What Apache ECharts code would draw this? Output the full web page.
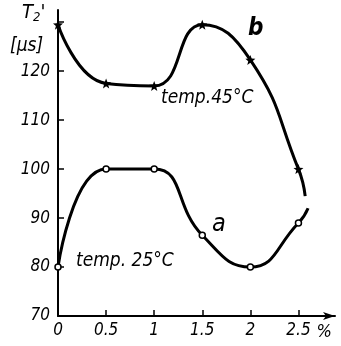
<!DOCTYPE html>
<html><head><meta charset="utf-8">
<script src="https://cdn.jsdelivr.net/npm/echarts@6/dist/echarts.min.js"></script>
<style>html,body{margin:0;padding:0;background:#fff}#c{width:341px;height:346px}</style>
</head><body><div id="c"></div>
<script>
const xTicks = [0, 0.5, 1, 1.5, 2, 2.5];
const yTicks = [70, 80, 90, 100, 110, 120];
const seriesA = [[0, 80], [0.5, 100], [1, 100], [1.5, 86.5], [2, 80], [2.5, 89]];
const seriesAEnd = [2.6, 92];
const seriesB = [[0, 129.5], [0.5, 117.5], [1, 117], [1.5, 129.5], [2, 122.3], [2.5, 100]];
const seriesBEnd = [2.57, 94.5];
const FONT = "'Liberation Sans Narrow','DejaVu Sans Condensed','DejaVu Sans',sans-serif";
const star = 'path://M0,-10L2.5,-3.5L9.5,-3.1L4,1.3L5.9,8.1L0,4.2L-5.9,8.1L-4,1.3L-9.5,-3.1L-2.5,-3.5Z';

const chart = echarts.init(document.getElementById('c'));
function withEnd(arr, end){
  return arr.map(p => ({value: p})).concat([{value: end, symbol: 'none'}]);
}
chart.setOption({
  animation: false,
  grid: {left: 58, right: 6, top: 10, bottom: 30},
  xAxis: {
    type: 'value', min: 0, max: 2.88, interval: 0.5,
    axisLine: {lineStyle: {color: '#000', width: 2}, symbol: ['none', 'arrow'], symbolSize: [6, 12]},
    axisTick: {inside: true, length: 6, lineStyle: {color: '#000', width: 1.5}},
    axisLabel: {color: '#000', fontStyle: 'italic', fontSize: 17, fontFamily: FONT, margin: 6,
      showMaxLabel: false,
      formatter: v => xTicks.includes(+v.toFixed(2)) ? String(v) : ''},
    splitLine: {show: false},
    name: '%', nameLocation: 'end', nameGap: -30,
    nameTextStyle: {color: '#000', fontStyle: 'italic', fontSize: 18, fontFamily: FONT, verticalAlign: 'top', padding: [7, 0, 0, 0]}
  },
  yAxis: {
    type: 'value', min: 70, max: 132.5, interval: 10,
    axisLine: {show: true, lineStyle: {color: '#000', width: 2}},
    axisTick: {inside: true, length: 6, lineStyle: {color: '#000', width: 1.5}},
    axisLabel: {color: '#000', fontStyle: 'italic', fontSize: 17, fontFamily: FONT, margin: 8,
      showMaxLabel: false,
      formatter: v => yTicks.includes(v) ? String(v) : ''},
    splitLine: {show: false}
  },
  series: [
    {type: 'line', smooth: 0.5, data: withEnd(seriesA, seriesAEnd),
     symbol: 'circle', symbolSize: 6,
     itemStyle: {color: '#fff', borderColor: '#000', borderWidth: 1.5},
     lineStyle: {color: '#000', width: 3}},
    {type: 'line', smooth: 0.5, data: withEnd(seriesB, seriesBEnd),
     symbol: star, symbolSize: 10,
     itemStyle: {color: '#000'},
     lineStyle: {color: '#000', width: 3}}
  ],
  graphic: [
    {type: 'text', left: 22, top: 3, style: {rich: {
        t: {fontSize: 20, fontStyle: 'italic', fontFamily: FONT, fill: '#000'},
        s: {fontSize: 13, fontStyle: 'italic', fontFamily: FONT, fill: '#000', verticalAlign: 'bottom', padding: [9, 0, 0, 0]}},
      text: "{t|T}{s|2}{t|'}"}},
    {type: 'text', left: 10, top: 37, style: {text: '[μs]', fontSize: 19, fontStyle: 'italic', fontFamily: FONT, fill: '#000'}},
    {type: 'text', left: 161, top: 89, style: {text: 'temp.45°C', fontSize: 19, fontStyle: 'italic', fontFamily: FONT, fill: '#000'}},
    {type: 'text', left: 76, top: 252, style: {text: 'temp. 25°C', fontSize: 19, fontStyle: 'italic', fontFamily: FONT, fill: '#000'}},
    {type: 'text', left: 212, top: 212, style: {text: 'a', fontSize: 25, fontStyle: 'italic', fontFamily: FONT, fill: '#000'}},
    {type: 'text', left: 248, top: 17, style: {text: 'b', fontSize: 24, fontStyle: 'italic', fontWeight: 'bold', fontFamily: FONT, fill: '#000'}}
  ]
});
</script></body></html>
